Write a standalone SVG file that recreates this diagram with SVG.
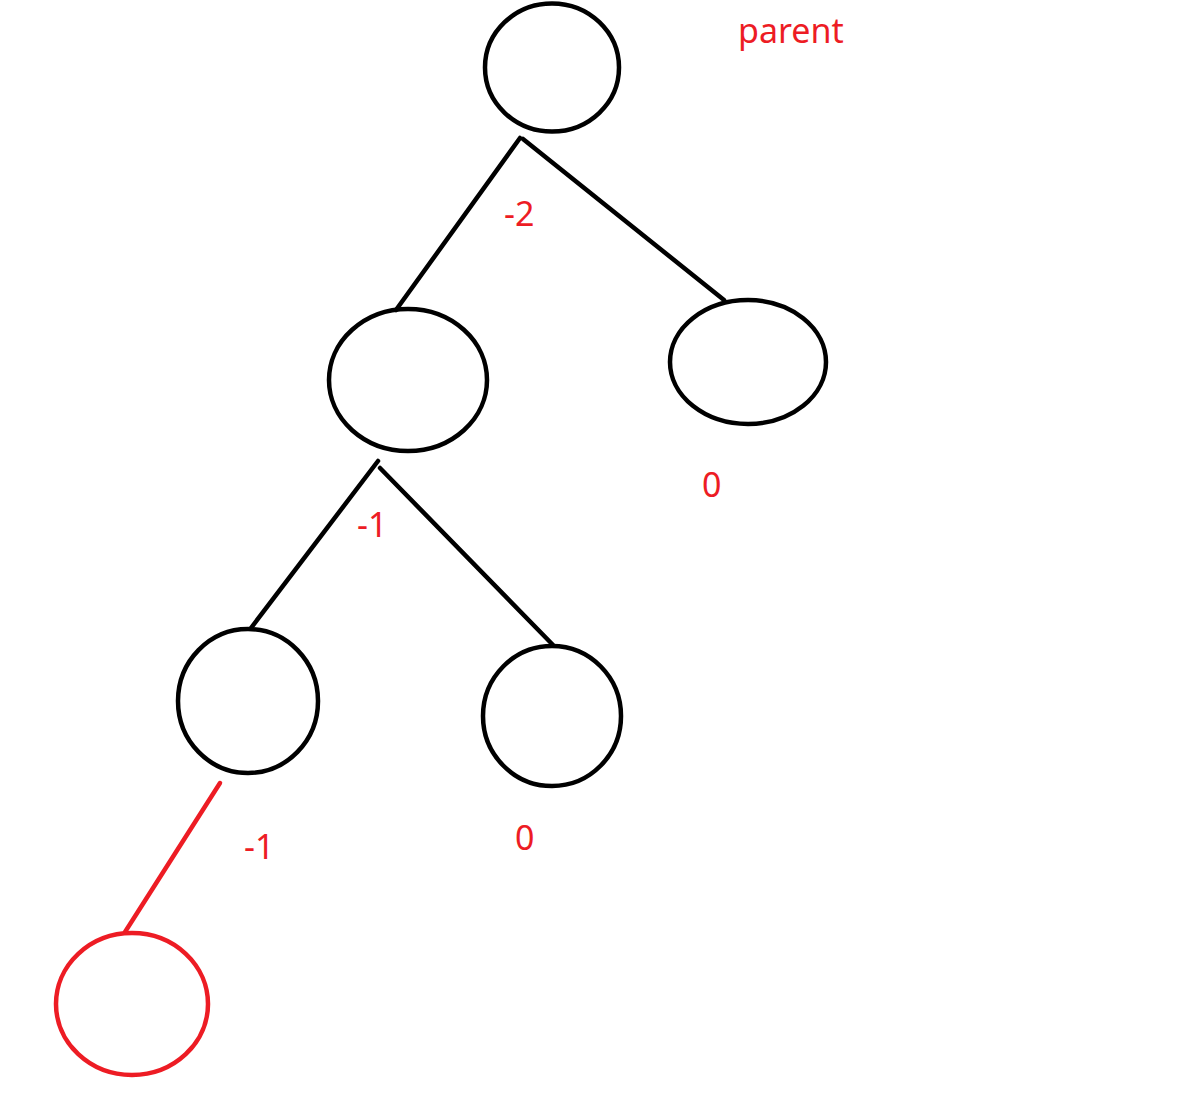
<svg xmlns="http://www.w3.org/2000/svg" width="1185" height="1107" viewBox="0 0 1185 1107">
<style>
.n{fill:none;stroke:#000;stroke-width:4.5}
.r{fill:none;stroke:#ED1C24;stroke-width:4.5}
.e{stroke:#000;stroke-width:4.5;stroke-linecap:round}
.re{stroke:#ED1C24;stroke-width:4.5;stroke-linecap:round}
.t{fill:#ED1C24;font-family:"Noto Sans","Open Sans",sans-serif;font-size:34px}
</style>
<rect width="1185" height="1107" fill="#fff"/>
<g id="connectors">
<line class="e" x1="520" y1="138" x2="396" y2="310"/>
<line class="e" x1="523" y1="139" x2="724" y2="300"/>
<line class="e" x1="378" y1="461" x2="251" y2="628"/>
<line class="e" x1="380" y1="468" x2="553" y2="645"/>
<line class="re" x1="220" y1="783" x2="125" y2="932"/>
</g>
<g id="root"><ellipse class="n" cx="552" cy="67.5" rx="67" ry="64"/></g>
<g id="left"><ellipse class="n" cx="408" cy="380" rx="79" ry="71"/></g>
<g id="right"><ellipse class="n" cx="748" cy="362" rx="78" ry="62"/></g>
<g id="leftleft"><ellipse class="n" cx="248" cy="701" rx="70" ry="72"/></g>
<g id="leftright"><ellipse class="n" cx="552" cy="716" rx="69" ry="70"/></g>
<g id="newnode"><ellipse class="r" cx="132" cy="1004" rx="76" ry="71"/></g>
<g id="labels">
<text class="t" x="738" y="43">parent</text>
<text class="t" x="504" y="226">-2</text>
<text class="t" x="702" y="497">0</text>
<text class="t" x="357" y="537">-1</text>
<text class="t" x="244" y="859">-1</text>
<text class="t" x="515" y="850">0</text>
</g>
</svg>
